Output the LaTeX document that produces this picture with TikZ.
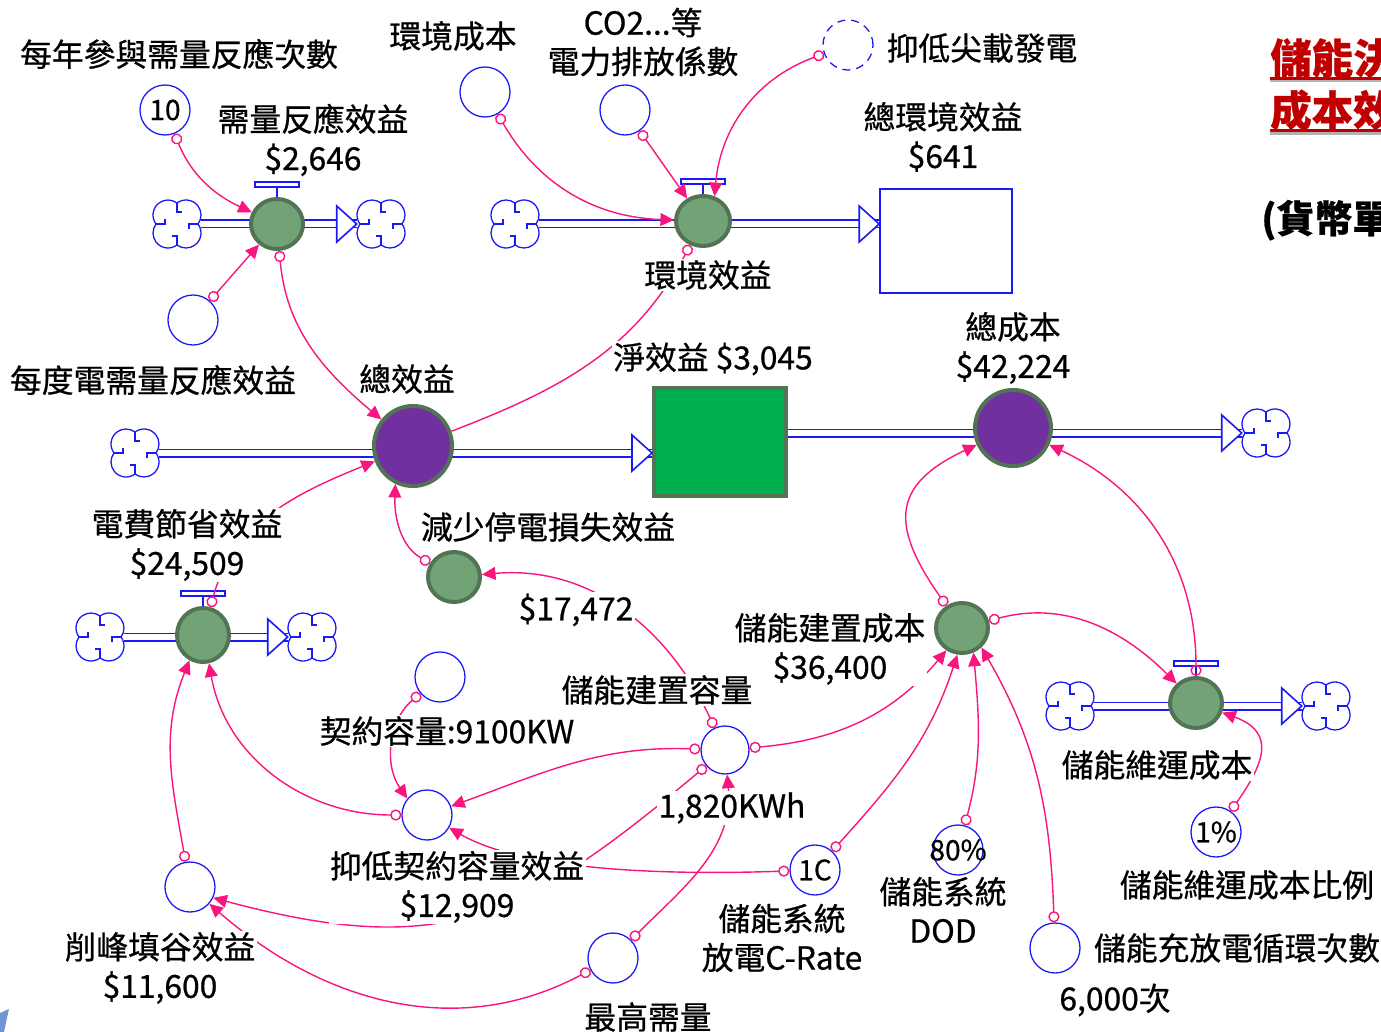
\documentclass[tikz,border=0pt]{standalone}
\usepackage{fontspec}
\setmainfont{Noto Sans CJK TC}[FakeBold=0.7]
\usetikzlibrary{arrows.meta,shapes.geometric,backgrounds}

\definecolor{linkpink}{RGB}{250,20,125}
\definecolor{vblue}{RGB}{25,25,245}
\definecolor{valvegreen}{RGB}{114,163,118}
\definecolor{valveedge}{RGB}{82,116,84}
\definecolor{valvepurple}{RGB}{112,48,160}
\definecolor{stockgreen}{RGB}{0,176,80}
\definecolor{titlered}{RGB}{192,0,0}
\definecolor{fragblue}{RGB}{110,150,215}

\newcommand\diagfont{\fontsize{22.6pt}{27.7pt}\selectfont}
\newcommand\valfont{\fontsize{20pt}{20pt}\selectfont}

\tikzset{
  pipe/.style={draw=vblue, line width=0.4mm, double=white, double distance=1.45mm},
  flowvalve/.style={ellipse, draw=valveedge, line width=1mm, fill=valvegreen, inner sep=0pt,
    minimum width=13mm, minimum height=12.5mm},
  bigvalve/.style={flowvalve, fill=valvepurple, minimum width=19.5mm, minimum height=19.5mm},
  auxvar/.style={ellipse, draw=vblue, line width=0.32mm, inner sep=0pt, minimum size=12.5mm},
  auxval/.style={label={[font=\valfont]center:#1}},
  stockbox/.style={rectangle, draw=valveedge, line width=1mm, fill=stockgreen,
    minimum width=33mm, minimum height=27mm},
  levelbox/.style={rectangle, draw=vblue, line width=0.4mm, fill=white,
    minimum width=33mm, minimum height=26mm},
  cloudspot/.style={rectangle, inner sep=0pt, minimum width=12mm, minimum height=11.5mm},
  link/.style={draw=linkpink, line width=0.35mm,
    arrows={Circle[open,length=2.8mm]-Triangle[length=3.4mm,width=3.2mm]}},
  tailonly/.style={draw=linkpink, line width=0.35mm, arrows={Circle[open,length=2.8mm]-}},
  lbl/.style={fill=white, inner sep=1pt, align=center, font=\diagfont},
  titletext/.style={anchor=west, inner sep=0pt, text=titlered, font=\fontsize{29.5pt}{30pt}\selectfont\bfseries},
  % a Vensim source/sink cloud, four lobes and a pinwheel inside
  pics/flowcloud/.style={code={
    \draw[vblue, line width=0.32mm, fill=white]
      (21,0) arc[start angle=-36.87, end angle=126.87, radius=15]
      arc[start angle=53.13, end angle=216.87, radius=15]
      arc[start angle=143.13, end angle=306.87, radius=15]
      arc[start angle=233.13, end angle=396.87, radius=15] -- cycle;
    \draw[vblue, line width=0.32mm] (21,0) -- (12,0) -- (12,5) (0,21) -- (0,12) -- (-5,12)
      (-21,0) -- (-12,0) -- (-12,-5) (0,-21) -- (0,-12) -- (5,-12);
  }},
  % open triangle at the end of a pipe
  pics/pipetip/.style={code={
    \draw[vblue, line width=0.4mm, fill=white, line join=miter] (0,0) -- (-20,-18) -- (-20,18) -- cycle;
  }},
  % the T handle above a flow valve
  pics/valvehandle/.style={code={
    \draw[vblue, line width=0.32mm] (0,0) -- (0,-10);
    \draw[vblue, line width=0.32mm, fill=white] (-22,-10) rectangle (22,-15);
  }},
}

\begin{document}
\begin{tikzpicture}[x=0.25mm, y=-0.25mm]
  % picture area, one unit is one pixel of the reference, y runs down
  \clip (0,0) rectangle (1381,1032);

  % spots for the clouds
  \node[cloudspot] (cDRin) at (177,224) {};
  \node[cloudspot] (cDRout) at (381,224) {};
  \node[cloudspot] (cEnvIn) at (515,224) {};
  \node[cloudspot] (cBenIn) at (135,453) {};
  \node[cloudspot] (cCostOut) at (1266,433) {};
  \node[cloudspot] (cBillIn) at (100,637) {};
  \node[cloudspot] (cBillOut) at (312,637) {};
  \node[cloudspot] (cOMin) at (1070,706) {};
  \node[cloudspot] (cOMout) at (1326,706) {};

  % the two stocks
  \node[stockbox] (sNet) at (720,442) {};
  \node[levelbox] (sEnv) at (946,241) {};

  % flow valves
  \node[flowvalve] (vDR) at (277,224) {};
  \node[flowvalve, minimum width=13.5mm] (vEnv) at (703,221) {};
  \node[bigvalve, minimum height=20mm] (vBen) at (413,446) {};
  \node[bigvalve, minimum width=19mm, minimum height=19mm] (vCost) at (1013,428) {};
  \node[flowvalve, minimum height=13.5mm] (vBill) at (203,635) {};
  \node[flowvalve] (vOut) at (454,577) {};
  \node[flowvalve] (vBuild) at (962,628) {};
  \node[flowvalve] (vOM) at (1196,703) {};

  % the pipes lie under the valves
  \begin{scope}[on background layer]
    \draw[pipe] (cDRin.east) -- (cDRout.west);
    \draw[pipe] (cEnvIn.east) -- (cEnvIn.east -| sEnv.west);
    \draw[pipe] (cBenIn.east) -- (cBenIn.east -| sNet.west);
    \draw[pipe] (sNet.east |- cCostOut.west) -- (cCostOut.west);
    \draw[pipe] (cBillIn.east) -- (cBillOut.west);
    \draw[pipe] (cOMin.east) -- (cOMout.west);
  \end{scope}
  \foreach \c in {cDRin,cDRout,cEnvIn,cBenIn,cCostOut,cBillIn,cBillOut,cOMin,cOMout}
    \pic at (\c) {flowcloud};
  \pic at (cDRout.west) {pipetip};
  \pic at (cEnvIn.east -| sEnv.west) {pipetip};
  \pic at (cBenIn.east -| sNet.west) {pipetip};
  \pic at (cCostOut.west) {pipetip};
  \pic at (cBillOut.west) {pipetip};
  \pic at (cOMout.west) {pipetip};
  \foreach \v in {vDR,vEnv,vBill,vOM}
    \pic at (\v.north) {valvehandle};

  % auxiliary variables
  \node[auxvar, auxval=10] (aTimes) at (165,110) {};
  \node[auxvar] (aUnit) at (193,320) {};
  \node[auxvar] (aEnvCost) at (485,92) {};
  \node[auxvar] (aCO2) at (625,110) {};
  \node[auxvar, dash pattern=on 2mm off 1.5mm] (aPeak) at (848,45) {};
  \node[auxvar] (aContract) at (440,677) {};
  \node[auxvar] (aCut) at (427,815) {};
  \node[auxvar, minimum size=12mm] (aCap) at (725,750) {};
  \node[auxvar] (aShave) at (190,887) {};
  \node[auxvar] (aMax) at (613,958) {};
  \node[auxvar, auxval=1C] (aRate) at (815,870) {};
  \node[auxvar, auxval=80\%] (aDOD) at (958,850) {};
  \node[auxvar, auxval=1\%] (aOMrate) at (1216,832) {};
  \node[auxvar] (aCycle) at (1055,948) {};

  % links, each one from its cause to its effect
  \draw[link] (aTimes) to[out=-68,in=155] (vDR);
  \draw[link] (aUnit) -- (vDR);
  \draw[link] (vDR) to[out=-85,in=140] (vBen);
  \draw[tailonly] (vEnv) to[out=-118,in=21] (vBen);
  \draw[link] (vBill) to[out=75,in=202] (vBen);
  \draw[link] (vOut) to[out=150,in=-92] (vBen.-115);
  \draw[link] (aCut) to[out=180,in=-80] (vBill.-78);
  \draw[link] (aShave) to[out=100,in=-112] (vBill.-118);
  \draw[link] (aContract) to[out=220,in=125] (aCut.140);
  \draw[link] (aCap) to[out=178,in=20] (aCut);
  \draw[link] (aRate) to[out=182,in=-30,looseness=0.7] (aCut);
  \draw[link] (aCap) to[out=-140,in=-15,looseness=1.2] (aShave.-25);
  \draw[link] (aMax) to[out=208,in=-41] (aShave);
  \draw[link] (aMax) to[out=45,in=-85] (aCap);
  \draw[link] (aCap) to[out=115,in=5] (vOut);
  \draw[link] (aCap) to[out=5,in=-130] (vBuild.-125);
  \draw[link] (aRate) to[out=48,in=-108] (vBuild.-100);
  \draw[link] (aDOD) to[out=75,in=-85] (vBuild.-65);
  \draw[link] (aCycle) to[out=92,in=-60] (vBuild.-45);
  \draw[link] (vBuild) to[out=125,in=205,looseness=1.5] (vCost);
  \draw[link] (vBuild) to[out=15,in=135] (vOM);
  \draw[link] (vOM) to[out=90,in=-25] (vCost);
  \draw[link] (aOMrate) to[out=55,in=-20,looseness=1.5] (vOM);
  \draw[link] (aEnvCost) to[out=-60,in=178] (vEnv);
  \draw[link] (aCO2) -- (vEnv);
  \draw[link] (aPeak) to[out=200,in=85] (vEnv.65);

  % names and values
  \node[lbl] (tTimes) at (179,54) {每年參與需量反應次數};
  \node[lbl] (tDR) at (313,140) {需量反應效益\\\$2,646};
  \node[lbl] (tUnit) at (153,380) {每度電需量反應效益};
  \node[lbl] (tEnvCost) at (453,36) {環境成本};
  \node[lbl] (tCO2) at (643,42) {CO2...等\\電力排放係數};
  \node[lbl] (tPeak) at (982,48) {抑低尖載發電};
  \node[lbl] (tEnvSum) at (943,137) {總環境效益\\\$641};
  \node[lbl] (tEnv) at (708,275) {環境效益};
  \node[lbl] (tBen) at (407,379) {總效益};
  \node[lbl] (tNet) at (713,359) {淨效益 \$3,045};
  \node[lbl] (tCost) at (1013,348) {總成本\\\$42,224};
  \node[lbl] (tBill) at (187,545) {電費節省效益\\\$24,509};
  \node[lbl] (tOut) at (548,527) {減少停電損失效益};
  \node[lbl] (tOutVal) at (576,610) {\$17,472};
  \node[lbl] (tBuild) at (830,649) {儲能建置成本\\\$36,400};
  \node[lbl] (tCap) at (657,690) {儲能建置容量};
  \node[lbl] (tContract) at (447,731) {契約容量:9100KW};
  \node[lbl] (tCapVal) at (732,808) {1,820KWh};
  \node[lbl] (tCut) at (457,887) {抑低契約容量效益\\\$12,909};
  \node[lbl] (tShave) at (160,968) {削峰填谷效益\\\$11,600};
  \node[lbl] (tMax) at (648,1017) {最高需量};
  \node[lbl] (tRate) at (782,938) {儲能系統\\放電C-Rate};
  \node[lbl] (tDOD) at (943,910) {儲能系統\\DOD};
  \node[lbl] (tOM) at (1157,765) {儲能維運成本};
  \node[lbl] (tOMrate) at (1247,885) {儲能維運成本比例};
  \node[lbl] (tCycle) at (1237,948) {儲能充放電循環次數};
  \node[lbl] (tCycleVal) at (1115,1000) {6,000次};

  % red title, cut by the right edge as in the source
  \node[titletext] (tTitleA) at (1270,58) {儲能決策};
  \node[titletext] (tTitleB) at (1270,110) {成本效益};
  \foreach \t in {tTitleA,tTitleB} {
    \draw[black!30, line width=0.8mm] ([yshift=-0.6mm]\t.south west) -- ++(200,0);
    \draw[titlered, line width=0.8mm] (\t.south west) -- ++(200,0);
  }
  \node[anchor=west, inner sep=0pt, font=\fontsize{27pt}{28pt}\selectfont\bfseries] (tUnitNote) at (1261,220) {(貨幣單位)};

  % corner of another picture at the lower left
  \fill[fragblue] (0,1013) -- (9,1009) -- (4,1032) -- (0,1032) -- cycle;
\end{tikzpicture}
\end{document}
